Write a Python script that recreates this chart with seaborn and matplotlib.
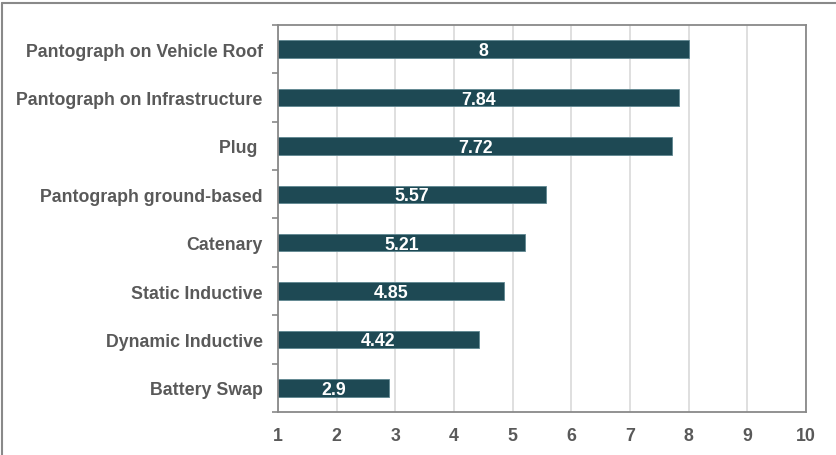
import matplotlib
matplotlib.use("Agg")
import matplotlib.pyplot as plt
from matplotlib.lines import Line2D
import seaborn as sns
import pandas as pd
import numpy as np

categories = [
    "Pantograph on Vehicle Roof",
    "Pantograph on Infrastructure",
    "Plug ",
    "Pantograph ground-based",
    "Catenary",
    "Static Inductive",
    "Dynamic Inductive",
    "Battery Swap",
]
scores = [8, 7.84, 7.72, 5.57, 5.21, 4.85, 4.42, 2.9]
x_ticks = [1, 2, 3, 4, 5, 6, 7, 8, 9, 10]

sns.set_theme(style="white")
plt.rcParams["font.family"] = ["Liberation Sans", "DejaVu Sans"]

bar_color = "#1E4954"
text_color = "#595959"
frame_color = "#898989"

df = pd.DataFrame({"category": categories, "score": scores})

fig = plt.figure(figsize=(8.37, 4.56), dpi=100)
ax = fig.add_axes([0.3321, 0.0943, 0.6309, 0.8487])

sns.barplot(data=df, x="score", y="category", orient="h", color=bar_color,
            saturation=1, width=0.36, edgecolor="#5F8791", linewidth=0.6, ax=ax)

ax.set_xlim(1, 10)
ax.set_ylim(len(categories) - 0.5, -0.5)
ax.set_xticks(x_ticks)
ax.set_xticklabels([str(t) for t in x_ticks])
ax.set_xlabel("")
ax.set_ylabel("")

ax.xaxis.grid(True, color="#D9D9D9", linewidth=1.2)
ax.set_axisbelow(True)

for side in ["left", "right", "top", "bottom"]:
    ax.spines[side].set_visible(True)
    ax.spines[side].set_color(frame_color)
    ax.spines[side].set_linewidth(1.3)

ax.tick_params(axis="x", length=0, pad=11, labelsize=12.8, labelcolor=text_color)
ax.tick_params(axis="y", which="major", left=False, length=0, pad=11,
               labelsize=12.8, labelcolor=text_color)
for lbl in ax.get_xticklabels() + ax.get_yticklabels():
    lbl.set_fontweight("bold")

# small outward ticks at category boundaries
ax.set_yticks(np.arange(-0.5, len(categories), 1.0), minor=True)
ax.tick_params(axis="y", which="minor", left=True, length=4.5, width=1.2,
               color=frame_color, direction="out")

# value labels centred on the visible bar segment
for i, v in enumerate(scores):
    ax.text((1 + v) / 2, i + 0.03, f"{v:g}", ha="center", va="center",
            color="white", fontsize=12.8, fontweight="bold")

# outer frame of the figure
fig.add_artist(Line2D([0.0025, 0.0025], [0, 0.992], transform=fig.transFigure,
                      color=frame_color, linewidth=1.5))
fig.add_artist(Line2D([0.0025, 1.0], [0.992, 0.992], transform=fig.transFigure,
                      color=frame_color, linewidth=1.5))

fig.savefig("out.png", dpi=100)
